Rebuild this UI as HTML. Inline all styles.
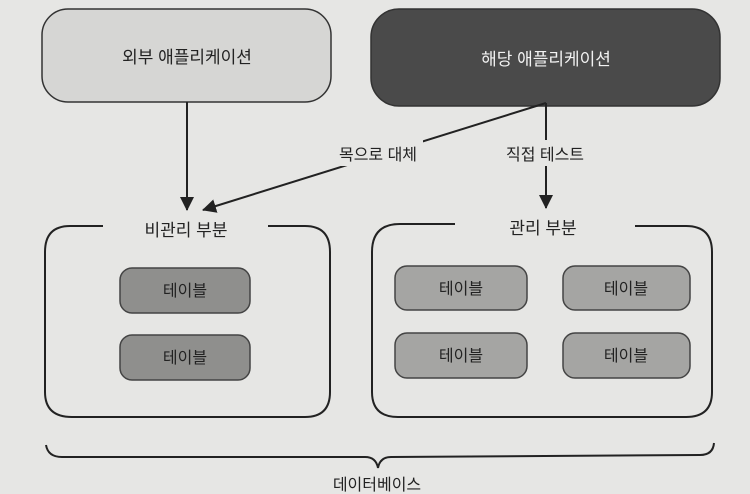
<!DOCTYPE html>
<html><head><meta charset="utf-8"><style>
html,body{margin:0;padding:0;background:#e6e6e4;}
svg{display:block}
text{font-family:"Liberation Sans","Noto Sans CJK KR",sans-serif;}
</style></head><body>
<svg width="750" height="494" viewBox="0 0 750 494" xmlns="http://www.w3.org/2000/svg">
<defs><marker id="a" markerWidth="10" markerHeight="10" refX="9" refY="5" orient="auto" markerUnits="userSpaceOnUse"><path d="M0,0 L10,5 L0,10 z" fill="#222"/></marker>
<marker id="b" markerWidth="14" markerHeight="14" refX="13" refY="7" orient="auto" markerUnits="userSpaceOnUse"><path d="M0,0 L14,7 L0,14 z" fill="#222"/></marker></defs>
<rect x="42" y="9" width="289" height="93" rx="26" fill="#d6d6d4" stroke="#333" stroke-width="1.5"/>
<text x="187" y="63" font-size="17" text-anchor="middle" fill="#222">외부 애플리케이션</text>
<rect x="371" y="9" width="349" height="97" rx="28" fill="#4a4a4a" stroke="#333" stroke-width="1.5"/>
<text x="546" y="65" font-size="17" text-anchor="middle" fill="#f2f2f2">해당 애플리케이션</text>
<line x1="187" y1="102" x2="187" y2="210" stroke="#222" stroke-width="2" marker-end="url(#b)"/>
<line x1="546" y1="103" x2="546" y2="208" stroke="#222" stroke-width="2" marker-end="url(#b)"/>
<line x1="546" y1="103" x2="203" y2="210" stroke="#222" stroke-width="2" marker-end="url(#b)"/>
<rect x="335" y="140" width="88" height="26" fill="#e6e6e4"/>
<rect x="500" y="140" width="92" height="26" fill="#e6e6e4"/>
<text x="378" y="160" font-size="16" text-anchor="middle" fill="#222">목으로 대체</text>
<text x="545" y="160" font-size="16" text-anchor="middle" fill="#222">직접 테스트</text>
<path d="M103,226 L70,226 Q45,226 45,252 L45,392 Q45,417 72,417 L305,417 Q330,417 330,392 L330,252 Q330,226 305,226 L268,226" fill="none" stroke="#222" stroke-width="2"/>
<text x="186" y="236" font-size="17" text-anchor="middle" fill="#222">비관리 부분</text>
<path d="M455,224 L400,224 Q372,224 372,252 L372,392 Q372,417 398,417 L686,417 Q712,417 712,392 L712,252 Q712,226 686,226 L635,226" fill="none" stroke="#222" stroke-width="2"/>
<text x="543" y="234" font-size="17" text-anchor="middle" fill="#222">관리 부분</text>
<g stroke="#444" stroke-width="1.5">
<rect x="120" y="268" width="130" height="45" rx="12" fill="#8f8f8d"/>
<rect x="120" y="335" width="130" height="45" rx="12" fill="#8f8f8d"/>
<rect x="395" y="266" width="132" height="44" rx="12" fill="#a5a5a3"/>
<rect x="563" y="266" width="127" height="44" rx="12" fill="#a5a5a3"/>
<rect x="395" y="333" width="132" height="45" rx="12" fill="#a5a5a3"/>
<rect x="563" y="333" width="127" height="45" rx="12" fill="#a5a5a3"/>
</g>
<g font-size="16" text-anchor="middle" fill="#222">
<text x="185" y="296">테이블</text><text x="185" y="363">테이블</text>
<text x="461" y="294">테이블</text><text x="626" y="294">테이블</text>
<text x="461" y="361">테이블</text><text x="626" y="361">테이블</text>
</g>
<path d="M46,445 Q48,457 62,457 L365,457 Q376,457 378,468 Q380,457 391,457 L700,455 Q713,455 714,443" fill="none" stroke="#222" stroke-width="2"/>
<text x="377" y="490" font-size="16" text-anchor="middle" fill="#222">데이터베이스</text>
</svg>
</body></html>
